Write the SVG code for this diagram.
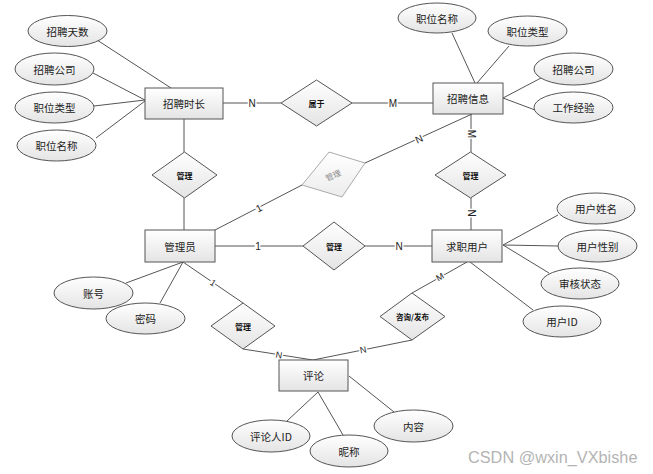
<svg xmlns="http://www.w3.org/2000/svg" width="653" height="474" viewBox="0 0 653 474">
<defs>
<linearGradient id="g" x1="0" y1="0" x2="0" y2="1">
<stop offset="0" stop-color="#ffffff"/>
<stop offset="1" stop-color="#e4e4e4"/>
</linearGradient>
<linearGradient id="gf" x1="0" y1="0" x2="0" y2="1">
<stop offset="0" stop-color="#ffffff"/>
<stop offset="1" stop-color="#ececec"/>
</linearGradient>
</defs>
<style>
.n{fill:url(#g);stroke:#555;stroke-width:1}
.t{font-family:"Noto Sans CJK SC","Liberation Sans",sans-serif;font-size:10.5px;fill:#222;text-anchor:middle;dominant-baseline:central}
.d{font-family:"Noto Sans CJK SC","Liberation Sans",sans-serif;font-size:8px;font-weight:bold;fill:#111;text-anchor:middle;dominant-baseline:central}
.c line{stroke:#555;stroke-width:1}
.l{font-family:"Liberation Sans",sans-serif;font-size:10px;fill:#222;text-anchor:middle;dominant-baseline:central;stroke:#fff;stroke-width:3px;paint-order:stroke}
</style>
<rect width="653" height="474" fill="#fff"/>
<g class="c" id="connectors">
<line x1="97" y1="40" x2="171" y2="88"/>
<line x1="93" y1="73" x2="145" y2="100"/>
<line x1="94" y1="106" x2="145" y2="100"/>
<line x1="96" y1="138" x2="145" y2="101"/>
<line x1="223" y1="103" x2="281" y2="103"/>
<line x1="352" y1="103" x2="433" y2="103"/>
<line x1="184" y1="119" x2="184" y2="152"/>
<line x1="184" y1="198" x2="184" y2="230"/>
<line x1="452" y1="33" x2="475" y2="83"/>
<line x1="509" y1="46" x2="477" y2="83"/>
<line x1="541" y1="78" x2="503" y2="98"/>
<line x1="535" y1="110" x2="503" y2="98"/>
<line x1="471" y1="114" x2="471" y2="152"/>
<line x1="471" y1="198" x2="471" y2="230"/>
<line x1="472" y1="114" x2="365" y2="163" />
<line x1="302" y1="185" x2="215" y2="230"/>
<line x1="215" y1="246" x2="303" y2="246"/>
<line x1="365" y1="246" x2="432" y2="246"/>
<line x1="503" y1="245" x2="558" y2="215"/>
<line x1="503" y1="245" x2="558" y2="246"/>
<line x1="503" y1="245" x2="549" y2="273"/>
<line x1="470" y1="262" x2="533" y2="310"/>
<line x1="467" y1="262" x2="412" y2="293"/>
<line x1="412" y1="340" x2="313" y2="360"/>
<line x1="183" y1="262" x2="243" y2="303"/>
<line x1="243" y1="349" x2="313" y2="360"/>
<line x1="183" y1="262" x2="126" y2="283"/>
<line x1="183" y1="262" x2="160" y2="303"/>
<line x1="318" y1="392" x2="287" y2="421"/>
<line x1="318" y1="392" x2="343" y2="435"/>
<line x1="349" y1="376" x2="394" y2="412"/>
<text class="l" x="252" y="103">N</text>
<text class="l" x="393" y="103">M</text>
<text class="l" x="471" y="134" transform="rotate(90 471 134)">M</text>
<text class="l" x="471" y="213" transform="rotate(90 471 213)">N</text>
<text class="l" x="419" y="139" transform="rotate(-25 419 139)">N</text>
<text class="l" x="259" y="208" transform="rotate(-27 259 208)">1</text>
<text class="l" x="258" y="246">1</text>
<text class="l" x="399" y="246">N</text>
<text class="l" x="440" y="277" transform="rotate(-30 440 277)" style="font-size:9px">M</text>
<text class="l" x="363" y="350" transform="rotate(-11 363 350)" style="font-size:9px">N</text>
<text class="l" x="213" y="283" transform="rotate(34 213 283)" style="font-size:9px">1</text>
<text class="l" x="279" y="355" transform="rotate(9 279 355)" style="font-size:9px">N</text>
</g>
<g id="e-zpsc"><rect class="n" x="145" y="88" width="78" height="31"/><text class="t" x="184" y="103.5">招聘时长</text></g>
<g id="e-zpxx"><rect class="n" x="433" y="83" width="70" height="31"/><text class="t" x="468" y="98.5">招聘信息</text></g>
<g id="e-gly"><rect class="n" x="145" y="230" width="70" height="32"/><text class="t" x="180" y="246">管理员</text></g>
<g id="e-qzyh"><rect class="n" x="432" y="230" width="70" height="32"/><text class="t" x="467" y="246">求职用户</text></g>
<g id="e-pl"><rect class="n" x="279" y="360" width="69" height="31"/><text class="t" x="313.5" y="375.5">评论</text></g>
<g id="r-sy"><polygon class="n" points="316.5,80 352,103 316.5,126 281,103"/><text class="d" x="316.5" y="103">属于</text></g>
<g id="r-gl1"><polygon class="n" points="184.5,152 217,175 184.5,198 152,175"/><text class="d" x="184.5" y="175">管理</text></g>
<g id="r-gl2"><polygon class="n" points="470.5,152 506,175 470.5,198 435,175"/><text class="d" x="470.5" y="175">管理</text></g>
<g id="r-gl3"><polygon class="n" points="334,222 365,246 334,270 303,246"/><text class="d" x="334" y="246">管理</text></g>
<g id="r-gl4"><polygon class="n" points="243,303 275,326 243,349 211,326"/><text class="d" x="243" y="326">管理</text></g>
<g id="r-zxfb"><polygon class="n" points="412,293 445,316.5 412,340 380,316.5"/><text class="d" x="412.5" y="316.5" style="font-size:7.5px">咨询/发布</text></g>
<g id="r-faint"><polygon points="329,152 365,163 342,197 302,185" fill="url(#gf)" stroke="#aaa"/><text class="d" x="333" y="175" transform="rotate(-25 333 175)" style="fill:#888;font-weight:normal">管理</text></g>
<g id="a-zpts"><ellipse class="n" cx="67.5" cy="31" rx="39.5" ry="15.5"/><text class="t" x="67.5" y="31">招聘天数</text></g>
<g id="a-zpgs1"><ellipse class="n" cx="54.5" cy="69" rx="39.5" ry="16"/><text class="t" x="54.5" y="69">招聘公司</text></g>
<g id="a-zwlx1"><ellipse class="n" cx="54.5" cy="107.5" rx="39.5" ry="15.5"/><text class="t" x="54.5" y="107.5">职位类型</text></g>
<g id="a-zwmc1"><ellipse class="n" cx="56.5" cy="145.5" rx="39.5" ry="15.5"/><text class="t" x="56.5" y="145.5">职位名称</text></g>
<g id="a-zwmc2"><ellipse class="n" cx="437" cy="18" rx="39" ry="15"/><text class="t" x="437" y="18">职位名称</text></g>
<g id="a-zwlx2"><ellipse class="n" cx="527.5" cy="31" rx="39.5" ry="15"/><text class="t" x="527.5" y="31">职位类型</text></g>
<g id="a-zpgs2"><ellipse class="n" cx="573.5" cy="69" rx="39.5" ry="16"/><text class="t" x="573.5" y="69">招聘公司</text></g>
<g id="a-gzjy"><ellipse class="n" cx="573.5" cy="107.5" rx="39.5" ry="15.5"/><text class="t" x="573.5" y="107.5">工作经验</text></g>
<g id="a-yhxm"><ellipse class="n" cx="596" cy="208.5" rx="39" ry="15.5"/><text class="t" x="596" y="208.5">用户姓名</text></g>
<g id="a-yhxb"><ellipse class="n" cx="597.5" cy="246" rx="39.5" ry="16"/><text class="t" x="597.5" y="246">用户性别</text></g>
<g id="a-shzt"><ellipse class="n" cx="580" cy="283.5" rx="39" ry="15.5"/><text class="t" x="580" y="283.5">审核状态</text></g>
<g id="a-yhid"><ellipse class="n" cx="562" cy="321.5" rx="39" ry="15.5"/><text class="t" x="562" y="321.5">用户ID</text></g>
<g id="a-zh"><ellipse class="n" cx="93.5" cy="293" rx="39.5" ry="16"/><text class="t" x="93.5" y="293">账号</text></g>
<g id="a-mm"><ellipse class="n" cx="145.5" cy="318.5" rx="39.5" ry="15.5"/><text class="t" x="145.5" y="318.5">密码</text></g>
<g id="a-plrid"><ellipse class="n" cx="271" cy="436" rx="39" ry="16"/><text class="t" x="271" y="436">评论人ID</text></g>
<g id="a-nc"><ellipse class="n" cx="349" cy="451" rx="39" ry="16"/><text class="t" x="349" y="451">昵称</text></g>
<g id="a-nr"><ellipse class="n" cx="413.5" cy="426" rx="39.5" ry="16"/><text class="t" x="413.5" y="426">内容</text></g>
<text x="468" y="463" font-family="Liberation Sans, sans-serif" font-size="16.3" fill="#b4b4b4">CSDN @wxin_VXbishe</text>
</svg>
